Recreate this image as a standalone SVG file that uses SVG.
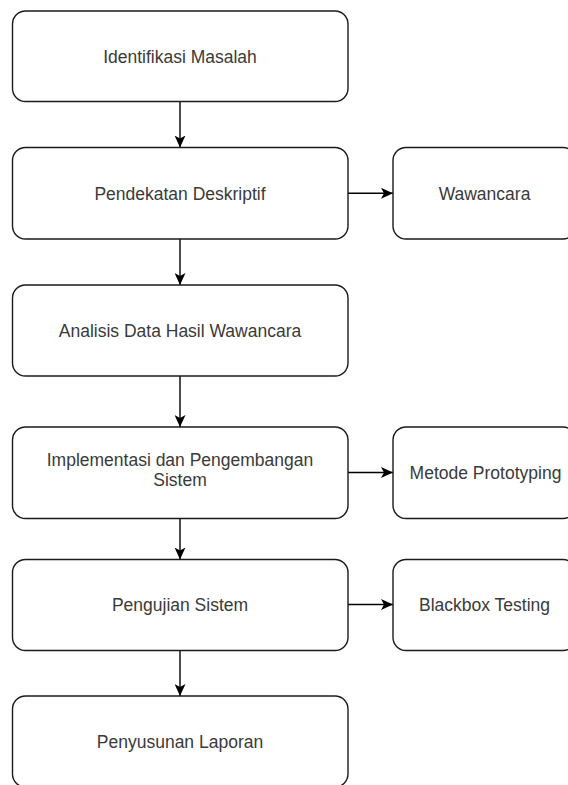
<svg xmlns="http://www.w3.org/2000/svg" width="568" height="785" viewBox="0 0 568 785">
  <defs>
    <style>
      .box { fill: #ffffff; stroke: #1a1a1a; stroke-width: 1.4; }
      .lbl { font-family: "Liberation Sans", Arial, sans-serif; font-size: 17.5px; fill: #3a3a3a; text-anchor: middle; }
      .edge { stroke: #000000; stroke-width: 1.4; fill: none; marker-end: url(#arrow); }
    </style>
    <marker id="arrow" viewBox="0 0 12 11" refX="12" refY="5.5" markerWidth="12" markerHeight="11" markerUnits="userSpaceOnUse" orient="auto">
      <path d="M0,0 L12,5.5 L0,11 L3,5.5 Z" fill="#000000"/>
    </marker>
  </defs>
  <rect width="568" height="785" fill="#ffffff"/>

  <g id="connectors">
    <line class="edge" x1="180" y1="101.5" x2="180" y2="147.5"/>
    <line class="edge" x1="180" y1="239" x2="180" y2="285"/>
    <line class="edge" x1="180" y1="376" x2="180" y2="427"/>
    <line class="edge" x1="180" y1="518.5" x2="180" y2="559.5"/>
    <line class="edge" x1="180" y1="650.5" x2="180" y2="696"/>
    <line class="edge" x1="348" y1="193.3" x2="393" y2="193.3"/>
    <line class="edge" x1="348" y1="472.5" x2="393" y2="472.5"/>
    <line class="edge" x1="348" y1="604.5" x2="393" y2="604.5"/>
  </g>

  <g id="identifikasi">
    <rect class="box" x="12.5" y="11" width="335.5" height="90.5" rx="13"/>
    <text class="lbl" x="180" y="62.5">Identifikasi Masalah</text>
  </g>
  <g id="pendekatan">
    <rect class="box" x="12.5" y="147.5" width="335.5" height="91.5" rx="13"/>
    <text class="lbl" x="180" y="199.5">Pendekatan Deskriptif</text>
  </g>
  <g id="wawancara">
    <rect class="box" x="393" y="147.5" width="183" height="91.5" rx="13"/>
    <text class="lbl" x="484.5" y="199.5">Wawancara</text>
  </g>
  <g id="analisis">
    <rect class="box" x="12.5" y="285" width="335.5" height="91" rx="13"/>
    <text class="lbl" x="180" y="336.5">Analisis Data Hasil Wawancara</text>
  </g>
  <g id="implementasi">
    <rect class="box" x="12.5" y="427" width="335.5" height="91.5" rx="13"/>
    <text class="lbl" x="180" y="466">Implementasi dan Pengembangan</text>
    <text class="lbl" x="180" y="486">Sistem</text>
  </g>
  <g id="prototyping">
    <rect class="box" x="393" y="427" width="183" height="91.5" rx="13"/>
    <text class="lbl" x="485.5" y="478.5">Metode Prototyping</text>
  </g>
  <g id="pengujian">
    <rect class="box" x="12.5" y="559.5" width="335.5" height="91" rx="13"/>
    <text class="lbl" x="180" y="610.5">Pengujian Sistem</text>
  </g>
  <g id="blackbox">
    <rect class="box" x="393" y="559.5" width="183" height="91" rx="13"/>
    <text class="lbl" x="484.5" y="610.5">Blackbox Testing</text>
  </g>
  <g id="penyusunan">
    <rect class="box" x="12.5" y="696" width="335.5" height="91" rx="13"/>
    <text class="lbl" x="180" y="747.5">Penyusunan Laporan</text>
  </g>
</svg>
